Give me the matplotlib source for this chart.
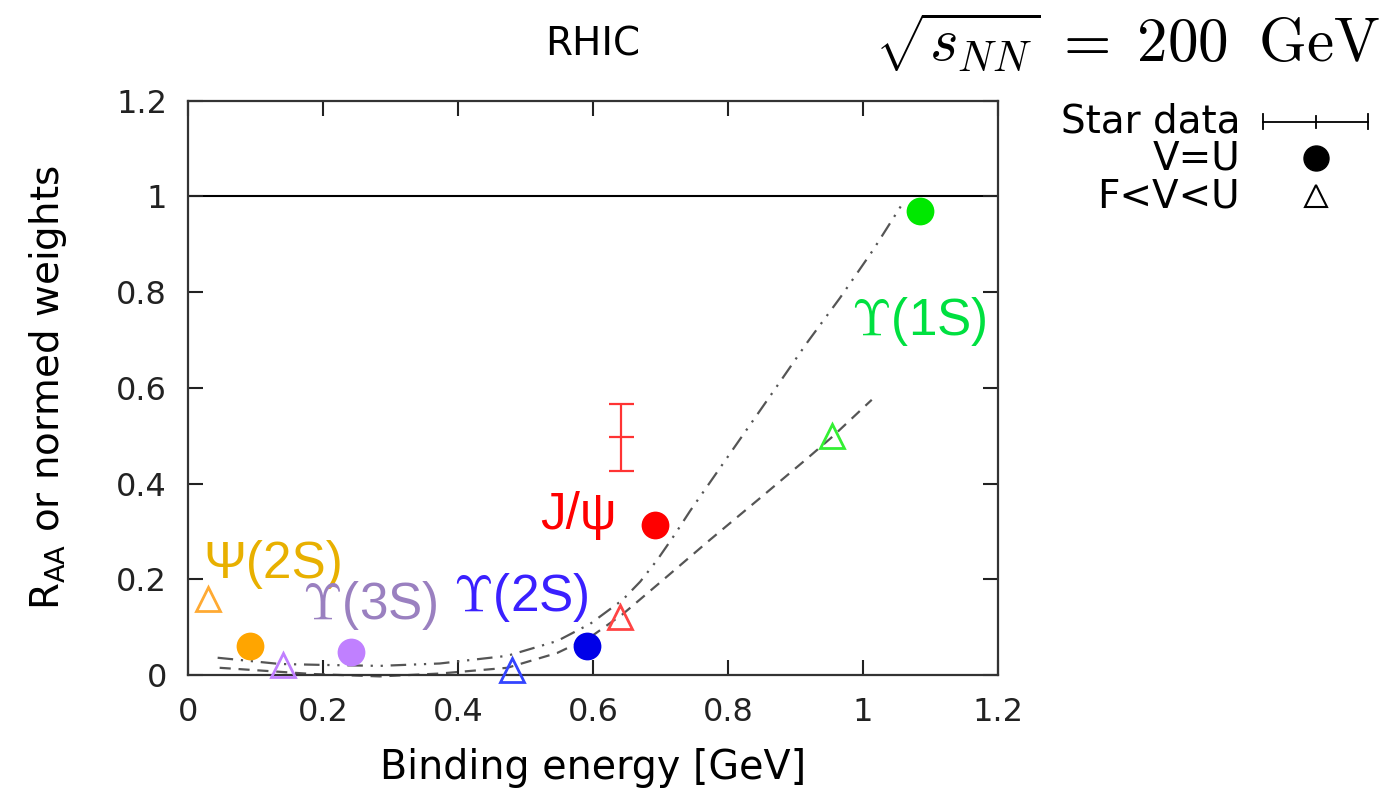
import matplotlib
matplotlib.use("agg")
import matplotlib.pyplot as plt

# binding energies [GeV] and weights, V=U potential (filled circles)
vu_x = [0.092, 0.241, 0.591, 0.692, 1.084]
vu_y = [0.061, 0.048, 0.061, 0.313, 0.970]
# F<V<U potential (open triangles)
fvu_x = [0.030, 0.141, 0.480, 0.640, 0.954]
fvu_y = [0.159, 0.021, 0.010, 0.121, 0.499]
states = ["Psi2S", "Ups3S", "Ups2S", "Jpsi", "Ups1S"]

circle_colors = ["#ffa500", "#c080ff", "#0000e8", "#ff0000", "#00e800"]
tri_colors = ["#ffaa33", "#c080ff", "#3344ff", "#ff4444", "#33f033"]

# STAR J/psi R_AA
star_x = [0.641]
star_y = [0.497]
star_err = [0.070]

# weight curves
curve_vu_x = [0.044, 0.136, 0.200, 0.284, 0.373, 0.473, 0.547, 0.596, 0.644,
              0.670, 0.695, 0.720, 0.744, 0.818, 0.867, 0.917, 0.966, 1.015,
              1.059]
curve_vu_y = [0.036, 0.023, 0.021, 0.019, 0.024, 0.040, 0.071, 0.107, 0.157,
              0.195, 0.240, 0.291, 0.343, 0.493, 0.592, 0.694, 0.788, 0.888,
              0.986]
curve_fvu_x = [0.047, 0.185, 0.284, 0.373, 0.473, 0.547, 0.596, 0.644, 0.695,
               0.773, 0.847, 0.917, 0.954, 1.013]
curve_fvu_y = [0.015, 0.002, -0.003, 0.003, 0.015, 0.046, 0.079, 0.127, 0.188,
               0.282, 0.369, 0.452, 0.497, 0.575]

labels = {
    "Psi2S": ("Ψ(2S)", 0.127, 0.230, "#e8b000"),
    "Ups3S": (r"$\Upsilon$(3S)", 0.270, 0.146, "#9a80c0"),
    "Ups2S": (r"$\Upsilon$(2S)", 0.493, 0.161, "#3a20ff"),
    "Jpsi": ("J/ψ", 0.579, 0.334, "#ff0000"),
    "Ups1S": (r"$\Upsilon$(1S)", 1.083, 0.738, "#00e040"),
}

xticks = [0, 0.2, 0.4, 0.6, 0.8, 1, 1.2]
yticks = [0, 0.2, 0.4, 0.6, 0.8, 1, 1.2]

plt.rcParams["font.family"] = "DejaVu Sans"
fig = plt.figure(figsize=(13.89, 7.94), dpi=100)
ax = fig.add_axes([0.1353, 0.1499, 0.5832, 0.7233])

ax.axhline(1.0, color="black", lw=1.5, zorder=1)

grey = "#555555"
ax.plot(curve_vu_x, curve_vu_y, color=grey, lw=1.6,
        linestyle=(0, (7, 3.5, 1, 3.5, 1, 3.5)), clip_on=False, zorder=2)
ax.plot(curve_fvu_x, curve_fvu_y, color=grey, lw=1.6,
        linestyle=(0, (5, 3.5)), clip_on=False, zorder=2)

for i in range(len(states)):
    ax.plot(vu_x[i], vu_y[i], "o", ms=20, color=circle_colors[i],
            mec="none", clip_on=False, zorder=4)
    ax.plot(fvu_x[i], fvu_y[i], "^", ms=17, mfc="none", mec=tri_colors[i],
            mew=2, clip_on=False, zorder=4)

ax.errorbar(star_x, star_y, yerr=star_err, fmt="_", color="#ff3333",
            ms=18, mew=1.6, elinewidth=1.6, capsize=9, capthick=1.6, zorder=3)

for key in states:
    txt, lx, ly, col = labels[key]
    ax.text(lx, ly, txt, color=col, fontsize=37, ha="center", va="center",
            family="Liberation Sans", math_fontfamily="cm")

ax.set_xlim(0, 1.2)
ax.set_ylim(0, 1.2)
ax.set_xticks(xticks)
ax.set_xticklabels(["%g" % t for t in xticks])
ax.set_yticks(yticks)
ax.set_yticklabels(["%g" % t for t in yticks])
ax.tick_params(direction="in", length=11, width=1.5, top=True, right=True,
               labelsize=23, colors="#222222")
ax.tick_params(axis="x", pad=16)
ax.tick_params(axis="y", pad=15)
for s in ax.spines.values():
    s.set_linewidth(1.6)
    s.set_color("#333333")

ax.set_xlabel("Binding energy [GeV]", fontsize=28.5, labelpad=14)
ax.set_ylabel(r"R$_{\rm AA}$ or normed weights", fontsize=28, labelpad=34)
ax.text(0.5, 1.097, "RHIC", transform=ax.transAxes, ha="center",
        va="center", fontsize=28)
fig.text(0.9935, 0.946, r"$\sqrt{s_{NN}}\;=\;200\;\;\mathrm{GeV}$",
         ha="right", va="center", fontsize=44, math_fontfamily="cm")

# key drawn beside the frame
kx = 1.3926
ax.text(1.299, 0.963, "Star data", transform=ax.transAxes, ha="right",
        va="center", fontsize=28)
ax.plot([1.327, 1.457], [0.963, 0.963], transform=ax.transAxes, color="black",
        lw=1.3, clip_on=False)
for xx, h in [(1.327, 0.013), (kx, 0.010), (1.457, 0.013)]:
    ax.plot([xx, xx], [0.963 - h, 0.963 + h], transform=ax.transAxes,
            color="black", lw=1.3, clip_on=False)
ax.text(1.299, 0.900, "V=U", transform=ax.transAxes, ha="right",
        va="center", fontsize=28)
ax.plot([kx], [0.900], "o", ms=18, color="black", transform=ax.transAxes,
        clip_on=False)
ax.text(1.299, 0.834, "F<V<U", transform=ax.transAxes, ha="right",
        va="center", fontsize=28)
ax.plot([kx], [0.834], "^", ms=16, mfc="none", mec="black", mew=1.5,
        transform=ax.transAxes, clip_on=False)

fig.savefig("out.png", dpi=100)
